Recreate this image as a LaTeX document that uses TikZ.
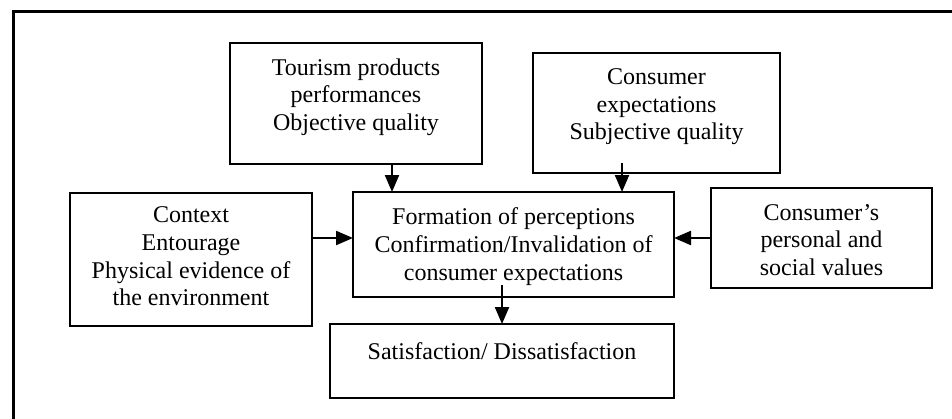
\documentclass[tikz,border=0pt]{standalone}
\usepackage{fontspec}
\setmainfont{Liberation Serif}
\usetikzlibrary{arrows.meta}

\tikzset{
  box/.style={draw, line width=0.9pt, inner sep=0pt, outer sep=0pt},
  txt/.style={align=center, font=\fontsize{12}{13.8}\selectfont},
  arr/.style={line width=1.1pt, -{Triangle[length=8.5pt,width=7pt]}}
}

\begin{document}
\begin{tikzpicture}[x=0.5pt, y=-0.5pt]
  \useasboundingbox (0,0) rectangle (952,418);
  \clip (0,0) rectangle (952,418);

  % Outer frame, runs off the page on the right and at the bottom
  \draw[line width=1.6pt] (13.5,11.5) rectangle (990,450);

  % Box for tourism products
  \node[box, minimum width=126pt, minimum height=60.5pt,
        label={[txt, yshift=3.25pt]center:{Tourism products\\performances\\Objective quality}}]
        (tourism) at (356,103.5) {};

  % Box for consumer expectations
  \node[box, minimum width=123.5pt, minimum height=60pt,
        label={[txt, yshift=3pt]center:{Consumer\\expectations\\Subjective quality}}]
        (expect) at (656.5,113) {};

  % Box for the context
  \node[box, minimum width=121pt, minimum height=66.5pt,
        label={[txt, yshift=1.5pt]center:{Context\\Entourage\\Physical evidence of\\the environment}}]
        (context) at (191,259.5) {};

  % Box for formation of perceptions
  \node[box, minimum width=160.5pt, minimum height=52.5pt,
        label={[txt, yshift=-1pt]center:{Formation of perceptions\\Confirmation/Invalidation of\\consumer expectations}}]
        (formation) at (513.5,244.5) {};

  % Box for personal and social values
  \node[box, minimum width=110.5pt, minimum height=50pt,
        label={[txt, yshift=-1pt]center:{Consumer’s\\personal and\\social values}}]
        (values) at (821.5,238) {};

  % Box for satisfaction
  \node[box, minimum width=172pt, minimum height=37pt,
        label={[txt, yshift=5pt]center:{Satisfaction/ Dissatisfaction}}]
        (satisf) at (502,361) {};

  % Arrows into formation of perceptions
  \draw[arr] ([xshift=18pt]tourism.south) -- ([xshift=18pt]tourism.south |- formation.north);
  \draw[arr] ([xshift=-17.25pt,yshift=5pt]expect.south) -- ([xshift=-17.25pt]expect.south |- formation.north);
  \draw[arr] ([yshift=3.25pt]formation.west -| context.east) -- ([yshift=3.25pt]formation.west);
  \draw[arr] (values.west) -- (values.west -| formation.east);

  % Arrow down to satisfaction
  \draw[arr] ([yshift=6pt]formation.south -| satisf.north) -- (satisf.north);
\end{tikzpicture}
\end{document}
